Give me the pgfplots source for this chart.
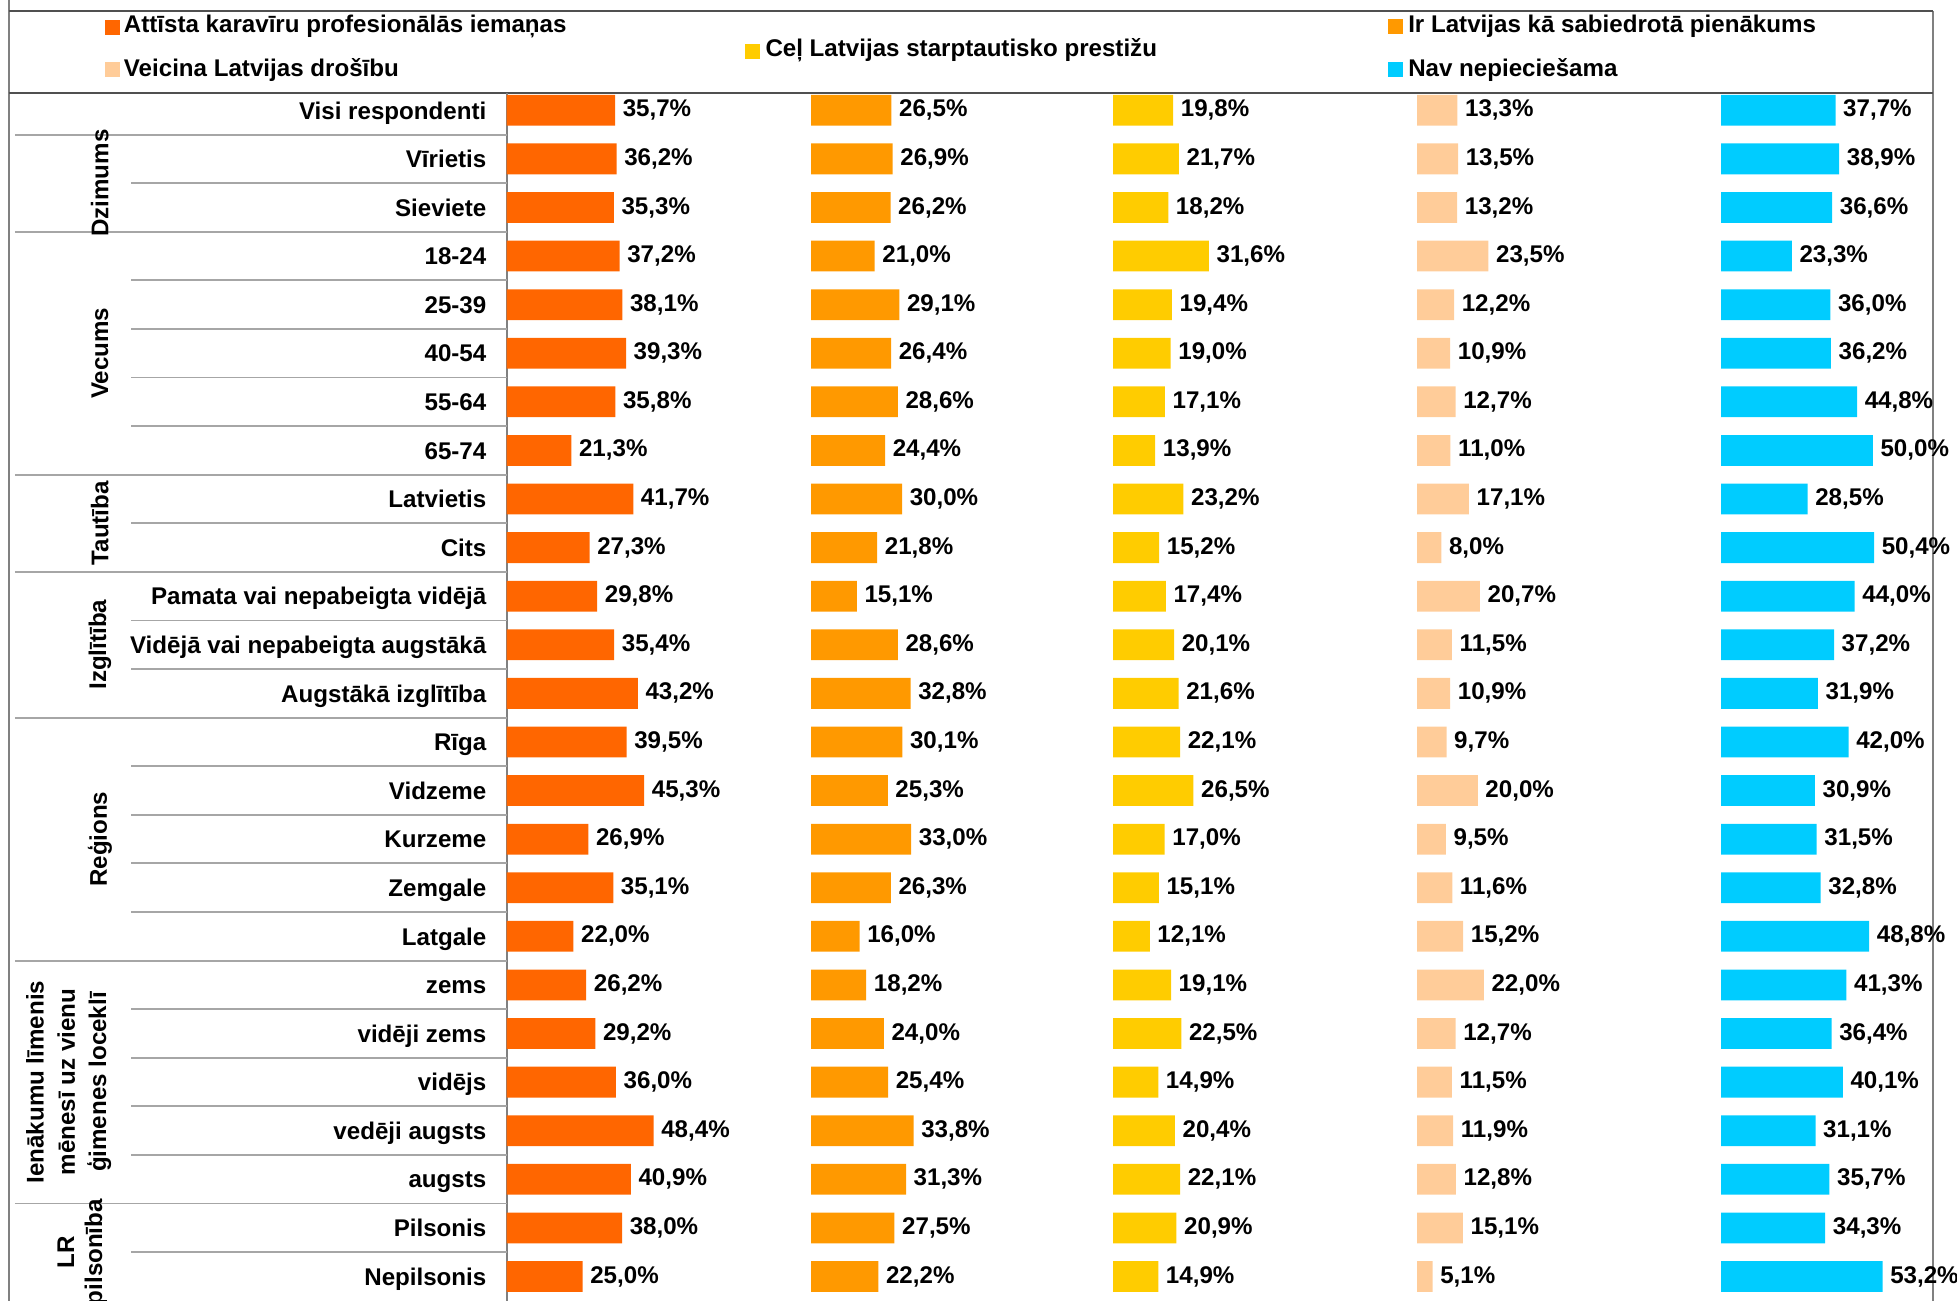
\documentclass[border=0pt]{standalone}
\usepackage{pgfplots}
\pgfplotsset{compat=1.18}
\usepackage{pgfplotstable}
\usepackage{fontspec}
\setmainfont{Liberation Sans}
\definecolor{cA}{HTML}{FF6600}
\definecolor{cB}{HTML}{FF9900}
\definecolor{cC}{HTML}{FFCC00}
\definecolor{cD}{HTML}{FFCC99}
\definecolor{cE}{HTML}{00CCFF}
\definecolor{sepc}{HTML}{A6A6A6}
\definecolor{framec}{HTML}{808080}
\definecolor{legc}{HTML}{505050}

\pgfplotstableread{
row A B C D E
0 35.7 26.5 19.8 13.3 37.7
1 36.2 26.9 21.7 13.5 38.9
2 35.3 26.2 18.2 13.2 36.6
3 37.2 21.0 31.6 23.5 23.3
4 38.1 29.1 19.4 12.2 36.0
5 39.3 26.4 19.0 10.9 36.2
6 35.8 28.6 17.1 12.7 44.8
7 21.3 24.4 13.9 11.0 50.0
8 41.7 30.0 23.2 17.1 28.5
9 27.3 21.8 15.2 8.0 50.4
10 29.8 15.1 17.4 20.7 44.0
11 35.4 28.6 20.1 11.5 37.2
12 43.2 32.8 21.6 10.9 31.9
13 39.5 30.1 22.1 9.7 42.0
14 45.3 25.3 26.5 20.0 30.9
15 26.9 33.0 17.0 9.5 31.5
16 35.1 26.3 15.1 11.6 32.8
17 22.0 16.0 12.1 15.2 48.8
18 26.2 18.2 19.1 22.0 41.3
19 29.2 24.0 22.5 12.7 36.4
20 36.0 25.4 14.9 11.5 40.1
21 48.4 33.8 20.4 11.9 31.1
22 40.9 31.3 22.1 12.8 35.7
23 38.0 27.5 20.9 15.1 34.3
24 25.0 22.2 14.9 5.1 53.2
}\data

\newcommand{\lfont}{\fontsize{11.6}{14.5}\selectfont\bfseries}

\pgfplotsset{colax/.style={hide axis, scale only axis, clip=false,
  width=145.9pt, height=584pt, xmin=0, xmax=100, ymin=-0.5, ymax=24.5,
  y dir=reverse, xbar, bar width=14.8pt, anchor=north west,
  point meta=x,
  nodes near coords={\pgfmathprintnumber[fixed,fixed zerofill,precision=1,use comma,assume math mode=true]{\pgfplotspointmeta}\%},
  nodes near coords style={anchor=west, xshift=3.5pt, inner sep=0pt, font=\lfont, text=black}}}

\begin{document}
\lfont
\begin{tikzpicture}[font=\lfont]
\useasboundingbox (0,0) rectangle (940.8pt,625.2pt);
\clip (0,0) rectangle (940.8pt,625.2pt);

\begin{scope}[x=0.6pt, y=-0.6pt, shift={(0pt,625.2pt)}]
% frame and legend box
\draw[framec, line width=1pt] (7,0) -- (7,1042);
\draw[framec, line width=1pt] (1549,8.8) -- (1549,1042);
\draw[legc, line width=1pt] (7,8.8) -- (1549,8.8);
\draw[legc, line width=1pt] (7,74.5) -- (1549,74.5);
\draw[framec, line width=1pt] (406,74.5) -- (406,1042);

% separators
\foreach \i in {1,3,4,5,6,8,10,11,13,14,15,16,18,19,20,21,23}
  \draw[sepc, line width=0.9pt] (105,{88.4+38.93*(\i+0.5)}) -- (406,{88.4+38.93*(\i+0.5)});
\foreach \i in {0,2,7,9,12,17,22}
  \draw[sepc, line width=0.9pt] (12,{88.4+38.93*(\i+0.5)}) -- (406,{88.4+38.93*(\i+0.5)});

% legend
\fill[cA] (84,16) rectangle (96,28);
\node[anchor=west, inner sep=0pt] at (99,21) {Attīsta karavīru profesionālās iemaņas};
\fill[cD] (84,50) rectangle (96,62);
\node[anchor=west, inner sep=0pt] at (99,56) {Veicina Latvijas drošību};
\fill[cC] (597,35) rectangle (609,47);
\node[anchor=west, inner sep=0pt] at (613,40) {Ceļ Latvijas starptautisko prestižu};
\fill[cB] (1112,15) rectangle (1124,27);
\node[anchor=west, inner sep=0pt] at (1128,21) {Ir Latvijas kā sabiedrotā pienākums};
\fill[cE] (1112,50) rectangle (1124,62);
\node[anchor=west, inner sep=0pt] at (1128,56) {Nav nepieciešama};

% row labels
\foreach \i/\t in {0/Visi respondenti, 1/Vīrietis, 2/Sieviete, 3/18-24, 4/25-39, 5/40-54, 6/55-64, 7/65-74, 8/Latvietis, 9/Cits, 10/Pamata vai nepabeigta vidējā, 11/Vidējā vai nepabeigta augstākā, 12/Augstākā izglītība, 13/Rīga, 14/Vidzeme, 15/Kurzeme, 16/Zemgale, 17/Latgale, 18/zems, 19/vidēji zems, 20/vidējs, 21/vedēji augsts, 22/augsts, 23/Pilsonis, 24/Nepilsonis}
  \node[anchor=base east, inner sep=0pt] at (390,{88.4+38.93*\i+7}) {\t};

% group labels
\node[rotate=90] at (80,146.8) {Dzimums};
\node[rotate=90] at (80,283.1) {Vecums};
\node[rotate=90] at (80,419.3) {Tautība};
\node[rotate=90] at (80,516.6) {Izglītība};
\node[rotate=90] at (80,672.4) {Reģions};
\node[rotate=90, align=center, font=\fontsize{11.6}{15}\selectfont\bfseries] at (55,867) {Ienākumu līmenis\\mēnesī uz vienu\\ģimenes loceklī};
\node[rotate=90, align=center, font=\fontsize{11.6}{13.5}\selectfont\bfseries] at (66,1003.3) {LR\\pilsonība};
\end{scope}

% bars
\begin{axis}[colax, at={(243.6pt,583.86pt)}]
\addplot[fill=cA, draw=none] table[x=A, y=row]{\data};
\end{axis}
\begin{axis}[colax, at={(389.88pt,583.86pt)}]
\addplot[fill=cB, draw=none] table[x=B, y=row]{\data};
\end{axis}
\begin{axis}[colax, at={(535.08pt,583.86pt)}]
\addplot[fill=cC, draw=none] table[x=C, y=row]{\data};
\end{axis}
\begin{axis}[colax, at={(681.24pt,583.86pt)}]
\addplot[fill=cD, draw=none] table[x=D, y=row]{\data};
\end{axis}
\begin{axis}[colax, at={(827.4pt,583.86pt)}]
\addplot[fill=cE, draw=none] table[x=E, y=row]{\data};
\end{axis}
\end{tikzpicture}
\end{document}
